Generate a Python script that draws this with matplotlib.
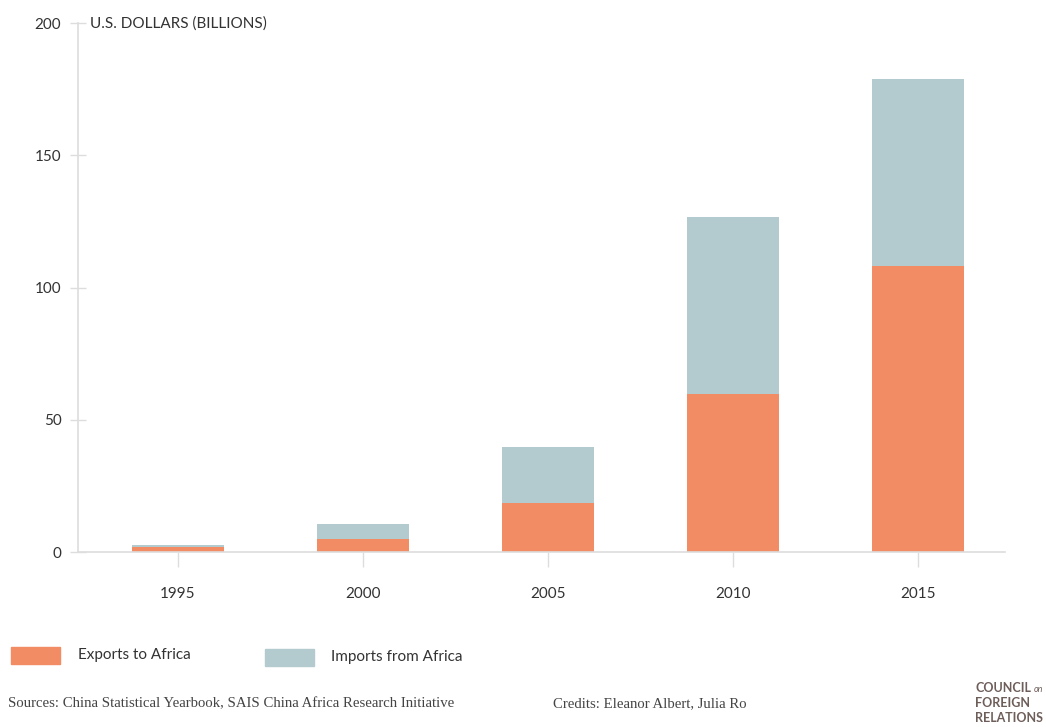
import matplotlib
matplotlib.use("Agg")
import matplotlib.pyplot as plt
from matplotlib.patches import Rectangle

# --- data ---
years = ['1995', '2000', '2005', '2010', '2015']
exports_to_africa = [1.9, 4.8, 18.6, 59.8, 108.2]
imports_from_africa = [0.8, 5.7, 21.1, 67.0, 70.6]

orange = '#F28C64'
grey = '#B3CBCE'
axis_col = '#DDDDDD'
text_col = '#333333'

plt.rcParams['font.family'] = ['Lato', 'DejaVu Sans']

fig = plt.figure(figsize=(10.46, 7.27), dpi=100)
ax = fig.add_axes([0.0746, 0.2407, 0.8864, 0.7273])

x = range(len(years))
ax.bar(x, exports_to_africa, width=0.5, color=orange, zorder=2)
ax.bar(x, imports_from_africa, width=0.5, bottom=exports_to_africa, color=grey, zorder=2)

ax.set_xlim(-0.54, 4.47)
ax.set_ylim(0, 200)
ax.set_yticks([0, 50, 100, 150, 200])
ax.set_xticks(list(x))
ax.set_xticklabels(years)

for s in ['top', 'right']:
    ax.spines[s].set_visible(False)
for s in ['left', 'bottom']:
    ax.spines[s].set_color(axis_col)
    ax.spines[s].set_linewidth(1.2)

ax.tick_params(axis='y', direction='inout', length=12, width=1, color=axis_col,
               labelsize=11, labelcolor=text_col, pad=6)
ax.tick_params(axis='x', direction='out', length=11, width=1, color=axis_col,
               labelsize=11, labelcolor=text_col, pad=14)

# axis title next to the top tick
ax.text(0.013, 200, 'U.S. DOLLARS (BILLIONS)', transform=ax.get_yaxis_transform(),
        ha='left', va='center', fontsize=11, color=text_col)

# legend at the bottom
W, H = 1046, 727
fig.add_artist(Rectangle((11 / W, 1 - 664 / H), 49 / W, 17 / H, color=orange,
                         transform=fig.transFigure))
fig.text(78 / W, 1 - 655 / H, 'Exports to Africa', fontsize=11, color=text_col,
         va='center', ha='left')
fig.add_artist(Rectangle((265 / W, 1 - 666 / H), 49 / W, 17 / H, color=grey,
                         transform=fig.transFigure))
fig.text(331 / W, 1 - 657 / H, 'Imports from Africa', fontsize=11, color=text_col,
         va='center', ha='left')

# footer
fig.text(8 / W, 1 - 704 / H, 'Sources: China Statistical Yearbook, SAIS China Africa Research Initiative',
         family='Liberation Serif', fontsize=10.6, color='#444444', va='center', ha='left')
fig.text(553 / W, 1 - 704 / H, 'Credits: Eleanor Albert, Julia Ro',
         family='Liberation Serif', fontsize=10.6, color='#444444', va='center', ha='left')

logo_col = '#6E5E5A'
fig.text(975 / W, 1 - 688 / H, 'COUNCIL', fontsize=9, fontweight='bold', color=logo_col,
         va='center', ha='left')
fig.text(1034 / W, 1 - 690 / H, 'on', fontsize=6.5, style='italic', color=logo_col,
         va='center', ha='left')
fig.text(975 / W, 1 - 703 / H, 'FOREIGN', fontsize=9, fontweight='bold', color=logo_col,
         va='center', ha='left')
fig.text(975 / W, 1 - 718 / H, 'RELATIONS', fontsize=9, fontweight='bold', color=logo_col,
         va='center', ha='left')

plt.savefig('out.png', dpi=100)
